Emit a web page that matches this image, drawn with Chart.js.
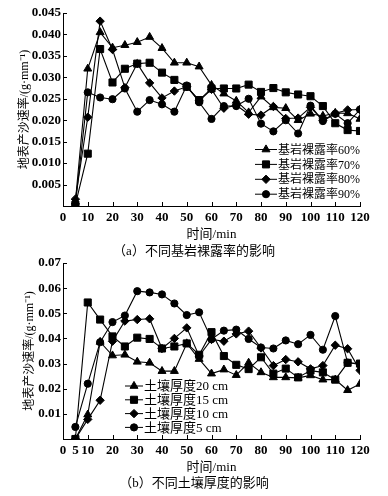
<!DOCTYPE html>
<html>
<head>
<meta charset="utf-8">
<script src="https://cdn.jsdelivr.net/npm/chart.js@4/dist/chart.umd.min.js"></script>
<style>
  body { margin: 0; background: #fff; }
  #wrap { position: relative; width: 388px; height: 496px; overflow: hidden; }
  canvas { position: absolute; left: 0; }
  .cap { position: absolute; left: 0; width: 388px; text-align: center; color: #000;
         font: 13px 'Liberation Serif', 'Noto Sans CJK SC', serif; line-height: 16px; }
</style>
</head>
<body>
<div id="wrap">
  <canvas id="chartA" width="388" height="256" style="top:0"></canvas>
  <canvas id="chartB" width="388" height="246" style="top:250px"></canvas>
  <div class="cap" style="top:243px">（a）不同基岩裸露率的影响</div>
  <div class="cap" style="top:475px">（b）不同土壤厚度的影响</div>
</div>
<script>
'use strict';

// time after start of rain, min
var minutes = [5, 10, 15, 20, 25, 30, 35, 40, 45, 50, 55, 60, 65, 70, 75, 80, 85, 90, 95, 100, 105, 110, 115, 120];

// (a) bedrock exposure rate
var bare60 = [0.0010, 0.0320, 0.0405, 0.0369, 0.0375, 0.0382, 0.0394, 0.0368, 0.0334, 0.0334, 0.0325, 0.0282, 0.0262, 0.0245, 0.0218, 0.0255, 0.0230, 0.0228, 0.0200, 0.0215, 0.0210, 0.0217, 0.0216, 0.0203];
var bare70 = [0.0003, 0.0122, 0.0366, 0.0288, 0.0320, 0.0332, 0.0334, 0.0311, 0.0294, 0.0278, 0.0247, 0.0274, 0.0274, 0.0274, 0.0283, 0.0266, 0.0275, 0.0265, 0.0260, 0.0256, 0.0233, 0.0193, 0.0177, 0.0175];
var bare80 = [0.0016, 0.0207, 0.0431, 0.0365, 0.0276, 0.0332, 0.0287, 0.0252, 0.0268, 0.0278, 0.0245, 0.0272, 0.0228, 0.0235, 0.0214, 0.0212, 0.0232, 0.0204, 0.0205, 0.0230, 0.0200, 0.0216, 0.0224, 0.0225];
var bare90 = [0.0003, 0.0265, 0.0253, 0.0249, 0.0274, 0.0220, 0.0247, 0.0237, 0.0220, 0.0281, 0.0242, 0.0203, 0.0233, 0.0233, 0.0250, 0.0192, 0.0174, 0.0200, 0.0169, 0.0234, 0.0198, 0.0215, 0.0193, 0.0225];

// (b) soil thickness
var soil20 = [0.0000, 0.0097, 0.0386, 0.0332, 0.0335, 0.0307, 0.0303, 0.0270, 0.0270, 0.0380, 0.0318, 0.0260, 0.0276, 0.0254, 0.0303, 0.0265, 0.0245, 0.0245, 0.0243, 0.0253, 0.0236, 0.0236, 0.0194, 0.0219];
var soil15 = [0.0000, 0.0543, 0.0475, 0.0408, 0.0368, 0.0403, 0.0398, 0.0360, 0.0368, 0.0380, 0.0335, 0.0425, 0.0330, 0.0295, 0.0278, 0.0325, 0.0260, 0.0280, 0.0245, 0.0272, 0.0265, 0.0236, 0.0303, 0.0300];
var soil10 = [0.0000, 0.0078, 0.0154, 0.0389, 0.0469, 0.0475, 0.0478, 0.0360, 0.0400, 0.0442, 0.0330, 0.0396, 0.0389, 0.0418, 0.0429, 0.0362, 0.0292, 0.0316, 0.0307, 0.0279, 0.0292, 0.0373, 0.0359, 0.0273];
var soil5 = [0.0048, 0.0220, 0.0385, 0.0465, 0.0491, 0.0588, 0.0583, 0.0575, 0.0539, 0.0493, 0.0504, 0.0397, 0.0431, 0.0435, 0.0398, 0.0364, 0.0360, 0.0392, 0.0377, 0.0414, 0.0355, 0.0489, 0.0304, 0.0296];

var ticksA = [0, 10, 20, 30, 40, 50, 60, 70, 80, 90, 100, 110, 120];
var ticksB = [0, 5, 10, 20, 30, 40, 50, 60, 70, 80, 90, 100, 110, 120];

var labelsA = ['基岩裸露率60%', '基岩裸露率70%', '基岩裸露率80%', '基岩裸露率90%'];
var labelsB = ['土壤厚度20 cm', '土壤厚度15 cm', '土壤厚度10 cm', '土壤厚度5 cm'];
var markers = ['triangle', 'rect', 'rectRot', 'circle'];
var markerSize = [4.6, 5, 4.2, 3.6];

var FONT = "'Liberation Serif', 'Noto Sans CJK SC', serif";

function toPoints(vals) {
  return minutes.map(function(m, i) { return { x: m, y: vals[i] }; });
}

function makeSets(series, labels) {
  return series.map(function(vals, i) {
    return {
      label: labels[i],
      data: toPoints(vals),
      borderColor: '#000',
      backgroundColor: '#000',
      borderWidth: 1.1,
      pointStyle: markers[i],
      pointRadius: markerSize[i],
      pointBorderWidth: 1,
      tension: 0
    };
  });
}

// small marker for the legend
function drawMarker(ctx, style, r, x, y) {
  ctx.beginPath();
  if (style === 'circle') {
    ctx.arc(x, y, r, 0, Math.PI * 2);
  } else if (style === 'rect') {
    var s = r * Math.SQRT1_2;
    ctx.rect(x - s, y - s, 2 * s, 2 * s);
  } else if (style === 'rectRot') {
    ctx.moveTo(x, y - r); ctx.lineTo(x + r, y); ctx.lineTo(x, y + r); ctx.lineTo(x - r, y);
  } else {
    var h = r * Math.sqrt(3) / 2;
    ctx.moveTo(x, y - r); ctx.lineTo(x + h, y + r / 2); ctx.lineTo(x - h, y + r / 2);
  }
  ctx.closePath();
  ctx.fill();
  ctx.stroke();
}

var insideTicks = {
  id: 'insideTicks',
  afterDraw: function(chart) {
    var ctx = chart.ctx, xs = chart.scales.x, ys = chart.scales.y;
    ctx.save();
    ctx.strokeStyle = '#000';
    ctx.lineWidth = 1;
    ctx.beginPath();
    xs.ticks.forEach(function(t) {
      var px = Math.round(xs.getPixelForValue(t.value)) + 0.5;
      ctx.moveTo(px, ys.bottom);
      ctx.lineTo(px, ys.bottom - 4);
    });
    ys.ticks.forEach(function(t) {
      var py = Math.round(ys.getPixelForValue(t.value)) + 0.5;
      ctx.moveTo(xs.left, py);
      ctx.lineTo(xs.left + 4, py);
    });
    ctx.stroke();
    ctx.restore();
  }
};

var boxLegend = {
  id: 'boxLegend',
  afterDraw: function(chart, args, opts) {
    var ctx = chart.ctx;
    ctx.save();
    ctx.font = opts.size + 'px ' + FONT;
    ctx.textBaseline = 'middle';
    ctx.fillStyle = '#000';
    ctx.strokeStyle = '#000';
    ctx.lineWidth = 1;
    chart.data.datasets.forEach(function(ds, i) {
      var y = opts.y + i * opts.gap;
      ctx.beginPath();
      ctx.moveTo(opts.x, y);
      ctx.lineTo(opts.x + opts.len, y);
      ctx.stroke();
      drawMarker(ctx, ds.pointStyle, ds.pointRadius, opts.x + opts.len / 2, y);
      ctx.fillText(ds.label, opts.x + opts.len + 1, y + 1);
    });
    ctx.restore();
  }
};

function buildChart(id, sets, cfg) {
  var ctx = document.getElementById(id).getContext('2d');
  return new Chart(ctx, {
    type: 'line',
    data: { datasets: sets },
    plugins: [insideTicks, boxLegend],
    options: {
      responsive: false,
      animation: false,
      layout: { padding: { left: 0, right: 28, top: 13, bottom: cfg.padBottom } },
      plugins: {
        legend: { display: false },
        tooltip: { enabled: false },
        boxLegend: cfg.legend
      },
      scales: {
        x: {
          type: 'linear',
          min: 0,
          max: 120,
          afterBuildTicks: function(s) {
            s.ticks = cfg.xTicks.map(function(v) { return { value: v }; });
          },
          afterFit: function(s) { s.height = cfg.xHeight; },
          grid: { display: false, drawTicks: false },
          border: { display: true, color: '#000', width: 1 },
          ticks: { color: '#000', padding: 4, maxRotation: 0, autoSkip: false,
                   font: { family: FONT, size: 13, weight: 'bold' } },
          title: { display: true, text: '时间/min', color: '#000',
                   padding: { top: 0, bottom: cfg.xTitlePad },
                   font: { family: FONT, size: 13 } }
        },
        y: {
          min: 0,
          max: cfg.yMax,
          ticks: {
            stepSize: cfg.yStep,
            color: '#000',
            padding: 2,
            font: { family: FONT, size: 13, weight: 'bold' },
            callback: function(v) { return v === 0 ? '' : v.toFixed(cfg.dec); }
          },
          afterFit: function(s) { s.width = 63; },
          grid: { display: false, drawTicks: false },
          border: { display: true, color: '#000', width: 1 },
          title: { display: true, text: '地表产沙速率/(g·mm⁻¹)', color: '#000',
                   padding: { top: cfg.yTitlePad, bottom: 0 },
                   font: { family: FONT, size: 12 } }
        }
      }
    }
  });
}

buildChart('chartA', makeSets([bare60, bare70, bare80, bare90], labelsA), {
  yMax: 0.045, yStep: 0.005, dec: 3, xTicks: ticksA,
  padBottom: 8, xHeight: 42, xTitlePad: 6, yTitlePad: 18,
  legend: { x: 255, y: 149.5, gap: 14.9, len: 22, size: 12 }
});

buildChart('chartB', makeSets([soil20, soil15, soil10, soil5], labelsB), {
  yMax: 0.07, yStep: 0.01, dec: 2, xTicks: ticksB,
  padBottom: 19, xHeight: 38, xTitlePad: 2, yTitlePad: 23,
  legend: { x: 125, y: 136, gap: 13.8, len: 18, size: 13 }
});
</script>
</body>
</html>
